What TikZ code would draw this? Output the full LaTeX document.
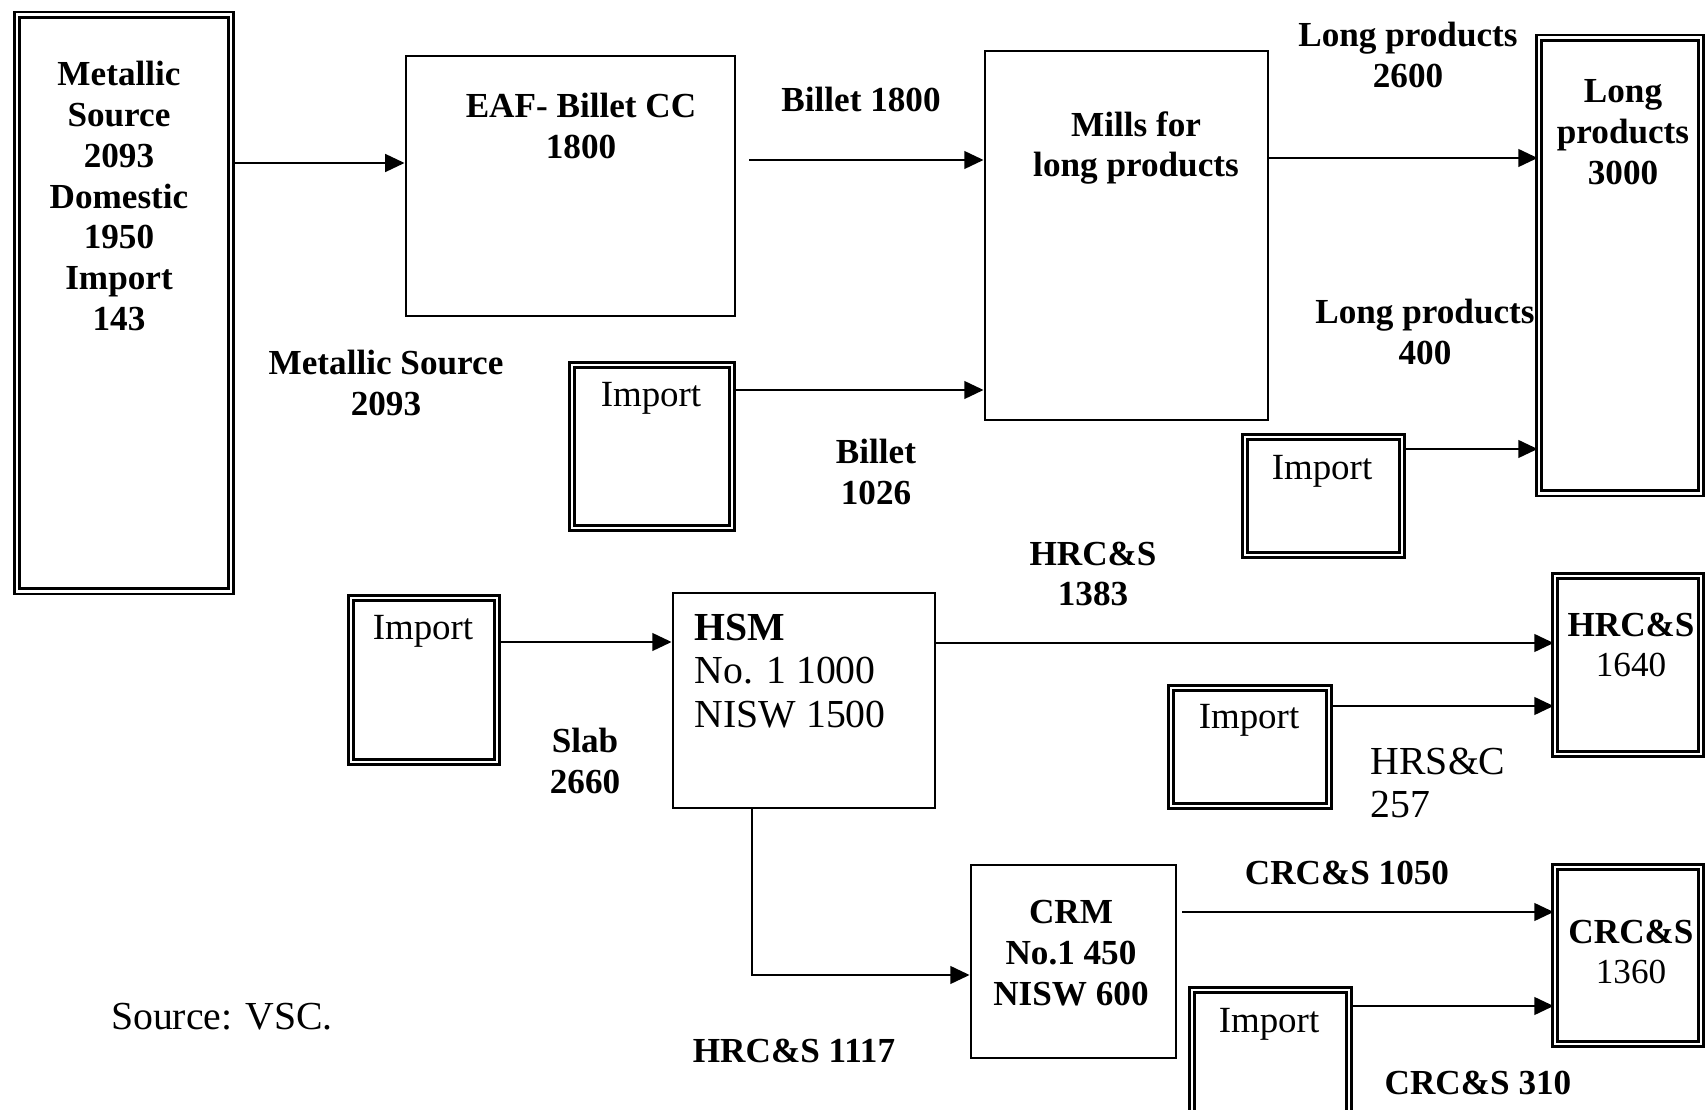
\documentclass[tikz,border=0pt]{standalone}
\usepackage{fontspec}
\setmainfont{Liberation Serif}
\usetikzlibrary{positioning, arrows.meta, calc}

\begin{document}
\begin{tikzpicture}[x=0.01cm, y=-0.01cm,
    box/.style={rectangle, draw, line width=0.75pt, inner sep=0pt},
    dbox/.style={rectangle, draw, double, line width=0.75pt, double distance=0.8pt, inner sep=0pt},
    txt/.style={font=\fontsize{10}{11.6}\selectfont\bfseries, align=center, inner sep=0pt},
    rtxt/.style={font=\fontsize{11.3}{12.3}\selectfont, align=left, inner sep=0pt},
    imp/.style={font=\fontsize{10.5}{11.6}\selectfont, inner sep=0pt},
    arr/.style={-{Triangle[length=5.5pt, width=5pt]}, line width=0.75pt},
  ]
    \useasboundingbox (0,0) rectangle (1708,1110);

    % boxes
    \node[dbox, minimum width=2.14cm, minimum height=5.76cm] (meta) at (124,303) {};
    \node[box, minimum width=3.29cm, minimum height=2.60cm] (eaf) at (570.5,186) {};
    \node[box, minimum width=2.83cm, minimum height=3.69cm] (mills) at (1126.5,235.5) {};
    \node[dbox, minimum width=1.62cm, minimum height=4.55cm] (longp) at (1620,265.5) {};
    \node[dbox, minimum width=1.57cm, minimum height=1.18cm] (implong) at (1323.5,496) {};
    \node[dbox, minimum width=1.60cm, minimum height=1.63cm] (impbil) at (652,446.5) {};
    \node[dbox, minimum width=1.46cm, minimum height=1.64cm] (impslab) at (424,680) {};
    \node[box, minimum width=2.62cm, minimum height=2.15cm] (hsm) at (804,700.5) {};
    \node[dbox, minimum width=1.46cm, minimum height=1.78cm] (hrc) at (1628,665) {};
    \node[dbox, minimum width=1.58cm, minimum height=1.18cm] (imphrc) at (1250,747) {};
    \node[box, minimum width=2.05cm, minimum height=1.93cm] (crm) at (1073.5,961.5) {};
    \node[dbox, minimum width=1.46cm, minimum height=1.77cm] (crc) at (1628,955.5) {};
    \node[dbox, minimum width=1.57cm, minimum height=1.26cm] (impcrc) at (1270.5,1053) {};

    % texts in boxes
    \node[txt] (meta-t) at (119,196) {Metallic\\Source\\2093\\Domestic\\1950\\Import\\143};
    \node[txt] (eaf-t) at (581,126) {EAF- Billet CC\\1800};
    \node[txt] (mills-t) at (1136,148) {Mills for\\long products};
    \node[txt] (longp-t) at (1623,132) {Long\\products\\3000};
    \node[imp] (implong-t) at (1322,471) {Import};
    \node[imp] (impbil-t) at (651,398) {Import};
    \node[imp] (impslab-t) at (423,631) {Import};
    \node[rtxt, anchor=west] (hsm-t) at (694,671) {\textbf{HSM}\\No. 1 1000\\NISW 1500};
    \node[txt] (hrc-t) at (1631,645) {HRC\&S\\\mdseries 1640};
    \node[imp] (imphrc-t) at (1249,720) {Import};
    \node[txt] (crm-t) at (1071,953) {CRM\\No.1 450\\NISW 600};
    \node[txt] (crc-t) at (1631,952) {CRC\&S\\\mdseries 1360};
    \node[imp] (impcrc-t) at (1269,1024) {Import};

    % flow labels
    \node[txt] (l-billet) at (861,99) {Billet 1800};
    \node[txt] (l-long1) at (1408,55) {Long products\\2600};
    \node[txt] (l-long2) at (1425,332) {Long products\\400};
    \node[txt] (l-metal) at (386,383) {Metallic Source\\2093};
    \node[txt] (l-bimp) at (876,472) {Billet\\1026};
    \node[txt] (l-hrc) at (1093,574) {HRC\&S\\1383};
    \node[txt] (l-slab) at (585,761) {Slab\\2660};
    \node[rtxt, anchor=west] (l-hrs) at (1370,783) {HRS\&C\\257};
    \node[txt] (l-crc1) at (1347,873) {CRC\&S 1050};
    \node[txt] (l-crc2) at (1478,1083) {CRC\&S 310};
    \node[txt] (l-hrc2) at (794,1051) {HRC\&S 1117};
    \node[rtxt] (src) at (222,1017) {Source: VSC.};

    % arrows
    \coordinate (b1) at (749,160);
    \coordinate (c1) at (1182,912);
    \draw[arr] (meta.east |- 0,163) -- (eaf.west |- 0,163);
    \draw[arr] (b1) -- (mills.west |- b1);
    \draw[arr] (mills.east |- 0,158) -- (longp.west |- 0,158);
    \draw[arr] (implong.east |- 0,449) -- (longp.west |- 0,449);
    \draw[arr] (impbil.east |- 0,390) -- (mills.west |- 0,390);
    \draw[arr] (impslab.east |- 0,642) -- (hsm.west |- 0,642);
    \draw[arr] (hsm.east |- 0,643) -- (hrc.west |- 0,643);
    \draw[arr] (imphrc.east |- 0,706) -- (hrc.west |- 0,706);
    \draw[arr] (hsm.south -| 752,0) |- (crm.west |- 0,975);
    \draw[arr] (c1) -- (crc.west |- c1);
    \draw[arr] (impcrc.east |- 0,1006) -- (crc.west |- 0,1006);
\end{tikzpicture}
\end{document}
